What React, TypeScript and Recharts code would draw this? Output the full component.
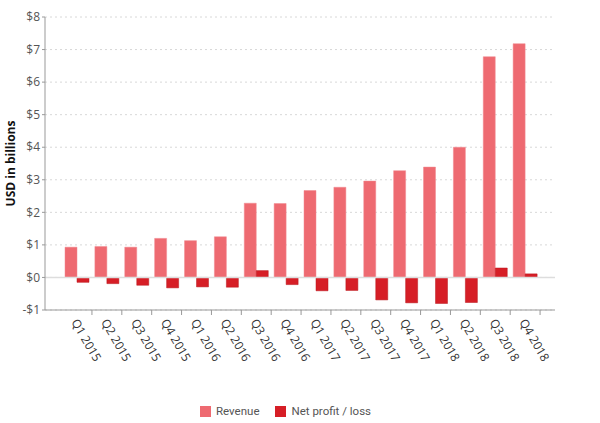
import React from "react"
import { BarChart, Bar, XAxis, YAxis, CartesianGrid, ReferenceLine, Legend } from "recharts"

const quarters = [
  "Q1 2015", "Q2 2015", "Q3 2015", "Q4 2015",
  "Q1 2016", "Q2 2016", "Q3 2016", "Q4 2016",
  "Q1 2017", "Q2 2017", "Q3 2017", "Q4 2017",
  "Q1 2018", "Q2 2018", "Q3 2018", "Q4 2018",
]
const revenue = [0.93, 0.95, 0.93, 1.2, 1.13, 1.25, 2.28, 2.27, 2.67, 2.77, 2.96, 3.28, 3.39, 4.0, 6.78, 7.18]
const netProfit = [-0.15, -0.19, -0.24, -0.32, -0.29, -0.3, 0.21, -0.22, -0.41, -0.4, -0.69, -0.78, -0.8, -0.77, 0.29, 0.11]
const yTicks = [-1, 0, 1, 2, 3, 4, 5, 6, 7, 8]

const REV_COLOR = "#ee6a71"
const NET_COLOR = "#d61e26"
const FONT = "'Open Sans', 'Noto Sans', sans-serif"

const data = quarters.map((q, i) => ({ q, revenue: revenue[i], net: netProfit[i] }))

const fmt = (v: number) => (v < 0 ? `-$${-v}` : `$${v}`)

// rotated quarter label, with the tick mark drawn on the band boundary
function QuarterTick({ x, y, payload }: { x?: number; y?: number; payload?: { value: string } }) {
  const px = x ?? 0
  const py = y ?? 0
  return (
    <g>
      <line x1={px + 15} x2={px + 15} y1={py} y2={py + 5} stroke="#999" />
      <text
        x={px - 6}
        y={py + 12}
        transform={`rotate(60 ${px - 6} ${py + 12})`}
        textAnchor="start"
        fill="#333"
        fontSize={12}
        fontFamily={FONT}
      >
        {payload?.value}
      </text>
    </g>
  )
}

function LegendBox() {
  const items = [
    { name: "Revenue", color: REV_COLOR },
    { name: "Net profit / loss", color: NET_COLOR },
  ]
  return (
    <div style={{ display: "flex", justifyContent: "center", gap: 16, fontFamily: "Roboto, sans-serif", fontSize: 11.5, color: "#555", marginLeft: -29 }}>
      {items.map((it) => (
        <div key={it.name} style={{ display: "flex", alignItems: "center", gap: 5 }}>
          <span style={{ width: 11, height: 11, background: it.color, display: "inline-block" }} />
          <span>{it.name}</span>
        </div>
      ))}
    </div>
  )
}

export default function App() {
  return (
    <div style={{ position: "absolute", left: 0, top: 0, width: 600, height: 423, background: "#fff" }}>
      <BarChart
        width={600}
        height={423}
        data={data}
        margin={{ top: 17, right: 45, left: 0, bottom: 0 }}
        barCategoryGap={3}
        barGap={0}
      >
        <CartesianGrid horizontal vertical={false} stroke="#d8d8d8" strokeDasharray="2 3" />
        <XAxis
          dataKey="q"
          height={93}
          interval={0}
          padding={{ left: 17, right: 15 }}
          axisLine={{ stroke: "#999" }}
          tickLine={false}
          tickSize={0}
          tickMargin={0}
          tick={<QuarterTick />}
        />
        <YAxis
          width={45}
          domain={[-1, 8]}
          ticks={yTicks}
          interval={0}
          tickFormatter={fmt}
          axisLine={{ stroke: "#999" }}
          tickLine={{ stroke: "#999" }}
          tickSize={3}
          tick={{ fill: "#555", fontSize: 12, fontFamily: FONT }}
          label={{
            value: "USD in billions",
            angle: -90,
            position: "insideLeft",
            offset: 0,
            dx: 11,
            style: { fontWeight: 700, fontSize: 12, fill: "#111", fontFamily: FONT, textAnchor: "middle" },
          }}
        />
        <ReferenceLine y={0} stroke="#ddd" strokeWidth={1.5} />
        <Bar dataKey="revenue" name="Revenue" fill={REV_COLOR} stroke="#f08a90" strokeWidth={0.5} isAnimationActive={false} />
        <Bar dataKey="net" name="Net profit / loss" fill={NET_COLOR} stroke="#b8161d" strokeWidth={0.5} isAnimationActive={false} />
        <Legend height={20} content={<LegendBox />} wrapperStyle={{ top: 404, left: 0, width: 600 }} />
      </BarChart>
    </div>
  )
}
